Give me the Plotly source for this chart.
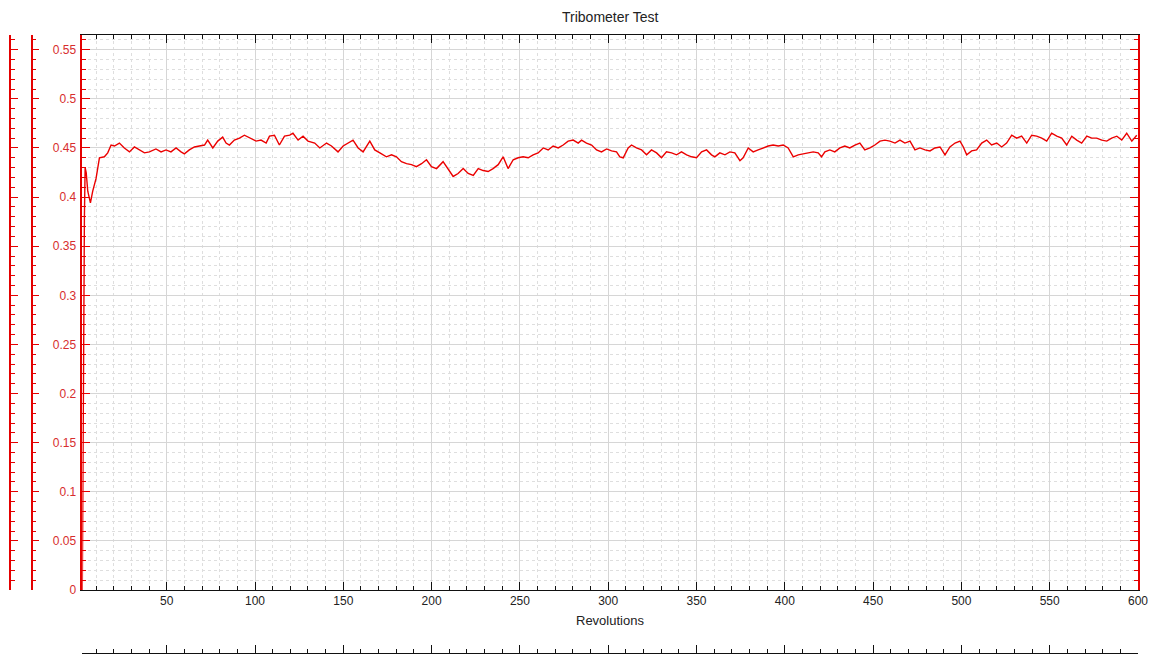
import plotly.graph_objects as go

# Revolutions (x) and coefficient of friction (y)
revs = [2.2, 2.5, 2.8, 3.1, 3.4, 3.8, 4.4, 5.3, 6.8, 8.1, 10.0, 11.9, 14.7, 16.6, 18.5, 20.4,
        23.2, 26.0, 28.9, 31.7, 34.5, 37.4, 40.2, 43.9, 46.8, 49.6, 52.4, 55.3, 58.1, 60.0,
        62.8, 65.7, 68.5, 71.4, 73.2, 75.1, 76.1, 78.9, 81.7, 83.6, 85.5, 88.3, 91.2, 94.0,
        97.8, 100.6, 103.4, 106.3, 108.2, 111.0, 113.8, 116.7, 119.7, 121.5, 124.4, 127.2,
        130.0, 133.8, 136.7, 140.5, 143.3, 147.0, 149.9, 152.7, 155.5, 158.4, 161.2, 165.0,
        167.8, 170.7, 174.4, 177.3, 180.1, 182.9, 185.8, 188.6, 191.4, 194.3, 197.1, 199.9,
        202.8, 206.5, 209.4, 212.2, 215.0, 217.9, 220.7, 223.6, 226.4, 229.2, 232.0, 234.8,
        237.7, 240.5, 243.3, 246.2, 249.0, 251.8, 254.7, 257.5, 260.3, 263.2, 266.0, 268.8,
        271.7, 274.5, 277.3, 280.2, 283.0, 284.9, 287.7, 290.6, 293.4, 296.2, 299.1, 301.9,
        304.7, 306.6, 308.5, 311.3, 313.2, 316.0, 318.9, 321.7, 324.5, 327.4, 330.2, 333.0,
        335.9, 338.7, 341.5, 344.4, 347.2, 350.0, 352.9, 355.7, 358.5, 360.4, 363.2, 366.1,
        368.9, 371.7, 374.6, 376.4, 379.3, 382.1, 384.9, 387.8, 390.6, 393.4, 396.3, 399.1,
        401.9, 404.8, 407.6, 410.4, 413.3, 416.1, 418.9, 420.8, 422.7, 425.5, 428.3, 431.2,
        434.0, 436.8, 439.7, 442.5, 445.3, 448.2, 451.0, 453.9, 456.7, 459.5, 462.4, 465.2,
        468.0, 470.9, 473.7, 476.5, 479.4, 482.2, 485.0, 487.9, 490.7, 493.5, 496.4, 499.2,
        501.1, 503.0, 505.8, 508.6, 511.5, 514.3, 517.1, 520.0, 522.8, 525.6, 528.5, 531.3,
        534.1, 537.0, 539.8, 542.6, 545.5, 548.3, 551.1, 554.0, 556.8, 559.6, 562.5, 565.3,
        568.1, 571.0, 573.8, 576.6, 579.5, 582.3, 585.1, 588.0, 590.8, 593.6, 596.5, 599.3]

cof = [0.000, 0.120, 0.220, 0.300, 0.380, 0.430, 0.425, 0.406, 0.394, 0.406, 0.419, 0.440,
       0.441, 0.445, 0.453, 0.452, 0.455, 0.450, 0.446, 0.451, 0.448, 0.445, 0.446, 0.449,
       0.446, 0.448, 0.446, 0.450, 0.446, 0.444, 0.448, 0.451, 0.452, 0.453, 0.458, 0.453,
       0.450, 0.457, 0.461, 0.455, 0.453, 0.458, 0.460, 0.463, 0.460, 0.457, 0.458, 0.455,
       0.462, 0.463, 0.453, 0.462, 0.463, 0.465, 0.458, 0.462, 0.457, 0.455, 0.450, 0.455,
       0.452, 0.446, 0.452, 0.455, 0.458, 0.450, 0.446, 0.457, 0.448, 0.445, 0.441, 0.443,
       0.441, 0.436, 0.434, 0.433, 0.431, 0.434, 0.438, 0.431, 0.429, 0.436, 0.429, 0.421,
       0.424, 0.429, 0.424, 0.422, 0.429, 0.427, 0.426, 0.429, 0.433, 0.441, 0.429, 0.438,
       0.440, 0.441, 0.440, 0.443, 0.445, 0.450, 0.448, 0.452, 0.450, 0.453, 0.457, 0.458,
       0.455, 0.458, 0.455, 0.453, 0.448, 0.446, 0.449, 0.447, 0.446, 0.441, 0.440, 0.450,
       0.453, 0.450, 0.448, 0.443, 0.448, 0.445, 0.440, 0.446, 0.445, 0.443, 0.446, 0.443,
       0.441, 0.440, 0.446, 0.448, 0.443, 0.441, 0.445, 0.443, 0.446, 0.445, 0.437, 0.440,
       0.450, 0.446, 0.448, 0.450, 0.452, 0.453, 0.452, 0.453, 0.450, 0.441, 0.443, 0.444,
       0.445, 0.446, 0.445, 0.441, 0.446, 0.448, 0.446, 0.450, 0.452, 0.450, 0.453, 0.455,
       0.448, 0.450, 0.453, 0.457, 0.458, 0.457, 0.455, 0.458, 0.455, 0.457, 0.448, 0.450,
       0.448, 0.447, 0.450, 0.451, 0.443, 0.451, 0.455, 0.457, 0.451, 0.443, 0.447, 0.448,
       0.455, 0.458, 0.453, 0.455, 0.451, 0.455, 0.463, 0.460, 0.462, 0.455, 0.463, 0.462,
       0.460, 0.457, 0.465, 0.462, 0.460, 0.453, 0.462, 0.458, 0.455, 0.462, 0.460, 0.460,
       0.458, 0.457, 0.460, 0.462, 0.458, 0.465, 0.457, 0.463]

x_ticks = [50, 100, 150, 200, 250, 300, 350, 400, 450, 500, 550, 600]
x_labels = ["50", "100", "150", "200", "250", "300", "350", "400", "450", "500", "550", "600"]
y_ticks = [0, 0.05, 0.1, 0.15, 0.2, 0.25, 0.3, 0.35, 0.4, 0.45, 0.5, 0.55]
y_labels = ["0", "0.05", "0.1", "0.15", "0.2", "0.25", "0.3", "0.35", "0.4", "0.45", "0.5", "0.55"]

title_text = "Tribometer Test"
x_title = "Revolutions"

RED = "rgb(228,0,0)"
RED_TXT = "rgb(215,45,45)"
FONT = "Liberation Sans, Arial, sans-serif"
XR = [2.2, 600]
YR = [0, 0.565]

W, H = 1151, 654
ML, MR, MT, MB = 0, 13, 35, 0
pw = W - ML - MR
ph = H - MT - MB
x_dom = [82.3 / pw, 1]
y_dom = [(H - 590) / ph, 1]

fig = go.Figure()
fig.add_trace(go.Scatter(x=revs, y=cof, mode="lines",
                         line=dict(color="rgb(235,0,0)", width=1.4),
                         hoverinfo="skip", showlegend=False))
# invisible carriers for the decorative extra axes
for xa, ya in [("x", "y2"), ("x", "y3"), ("x2", "y")]:
    fig.add_trace(go.Scatter(x=revs, y=cof, mode="lines", xaxis=xa, yaxis=ya,
                             line=dict(width=1, color="rgba(0,0,0,0)"),
                             hoverinfo="skip", showlegend=False))

grid_major = "rgb(214,214,214)"
grid_minor = "rgb(222,222,222)"

fig.update_layout(
    width=W, height=H,
    margin=dict(l=ML, r=MR, t=MT, b=MB, autoexpand=False),
    plot_bgcolor="white", paper_bgcolor="white",
    font=dict(family=FONT, size=12, color="#222"),
    showlegend=False,
    xaxis=dict(domain=x_dom, range=XR, anchor="y", automargin=False,
               tickmode="array", tickvals=x_ticks, ticktext=x_labels,
               ticks="inside", ticklen=8, tickcolor="#111", tickwidth=1,
               showline=True, linecolor="#111", linewidth=1, mirror="ticks",
               showgrid=True, gridcolor=grid_major, gridwidth=1, zeroline=False,
               tickfont=dict(size=12, color="#222"),
               minor=dict(tick0=0, dtick=10, ticks="inside", ticklen=4, tickcolor="#111",
                          showgrid=True, gridcolor=grid_minor, griddash="dot", gridwidth=1)),
    yaxis=dict(domain=y_dom, range=YR, anchor="x", automargin=False,
               tickmode="array", tickvals=y_ticks, ticktext=y_labels,
               ticks="inside", ticklen=8, tickcolor=RED, tickwidth=1,
               showline=True, linecolor=RED, linewidth=1.5, mirror="ticks",
               showgrid=True, gridcolor=grid_major, gridwidth=1, zeroline=False,
               tickfont=dict(size=12, color=RED_TXT), ticklabelstandoff=2,
               minor=dict(tick0=0, dtick=0.01, ticks="inside", ticklen=4, tickcolor=RED,
                          showgrid=True, gridcolor=grid_minor, griddash="dot", gridwidth=1)),
    yaxis2=dict(overlaying="y", anchor="free", position=10 / pw, side="left", automargin=False,
                domain=y_dom, range=YR, tickmode="linear", tick0=0, dtick=0.05,
                ticks="inside", ticklen=7, tickcolor=RED, showticklabels=False,
                showline=True, linecolor=RED, linewidth=1.5, showgrid=False, zeroline=False,
                minor=dict(tick0=0, dtick=0.01, ticks="inside", ticklen=4, tickcolor=RED,
                           showgrid=False)),
    yaxis3=dict(overlaying="y", anchor="free", position=31.7 / pw, side="left", automargin=False,
                domain=y_dom, range=YR, tickmode="linear", tick0=0, dtick=0.05,
                ticks="inside", ticklen=7, tickcolor=RED, showticklabels=False,
                showline=True, linecolor=RED, linewidth=1.5, showgrid=False, zeroline=False,
                minor=dict(tick0=0, dtick=0.01, ticks="inside", ticklen=4, tickcolor=RED,
                           showgrid=False)),
    xaxis2=dict(overlaying="x", anchor="free", position=1.5 / ph, side="bottom", automargin=False,
                domain=x_dom, range=XR, tickmode="linear", tick0=0, dtick=50,
                ticks="inside", ticklen=8, tickcolor="#111", showticklabels=False,
                showline=True, linecolor="#111", linewidth=1, showgrid=False, zeroline=False,
                minor=dict(tick0=0, dtick=10, ticks="inside", ticklen=4, tickcolor="#111",
                           showgrid=False)),
    annotations=[
        dict(text=title_text, xref="paper", yref="paper",
             x=(82.3 + (pw - 82.3) / 2) / pw, y=1 + 18 / ph, xanchor="center", yanchor="middle",
             showarrow=False, font=dict(size=14, color="#222", family=FONT)),
        dict(text=x_title, xref="paper", yref="paper",
             x=(82.3 + (pw - 82.3) / 2) / pw, y=(H - 620) / ph, xanchor="center", yanchor="middle",
             showarrow=False, font=dict(size=13, color="#222", family=FONT)),
    ],
)

fig.write_html("out.html",
               config={"displayModeBar": False},
               post_script="document.body.style.margin='0';document.body.style.overflow='hidden';")
